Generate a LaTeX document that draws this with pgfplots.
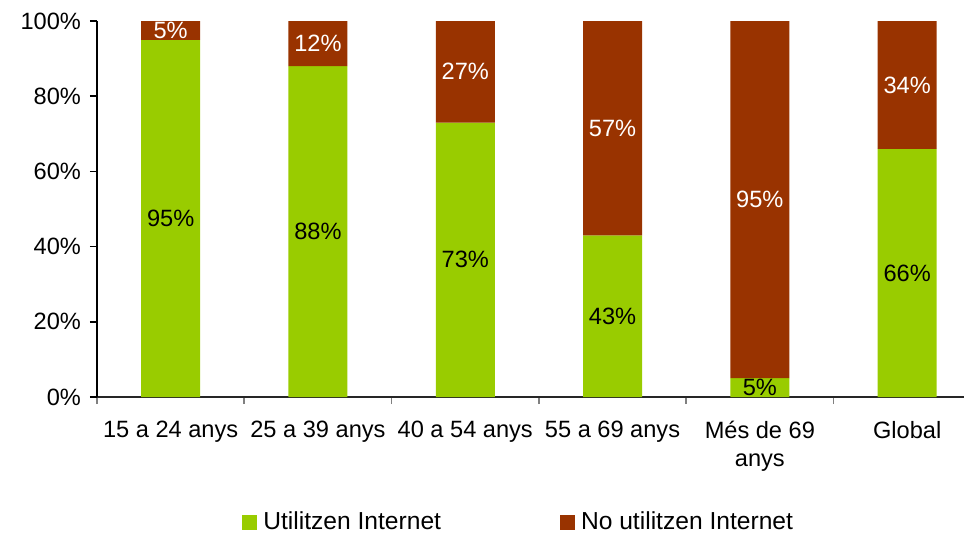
\documentclass[border=0pt]{standalone}
\usepackage{pgfplots}
\pgfplotsset{compat=1.18}
\usepackage{fontspec}
\setmainfont{Liberation Sans}
\definecolor{cgreen}{HTML}{99CC00}
\definecolor{cred}{HTML}{993300}
\newcommand{\chartfont}{\fontsize{11.8}{14}\selectfont}
\newcommand{\legfont}{\fontsize{12.3}{14}\selectfont}
\begin{document}
\begin{tikzpicture}
\begin{axis}[
  name=ax,
  scale only axis,
  width=433.5pt, height=188pt,
  xmin=-0.5, xmax=5.386,
  ymin=0, ymax=100,
  axis x line=bottom, axis y line=left,
  axis line style={-, line width=0.8pt},
  x axis line style={black!85},
  xtick={0,1,2,3,4,5},
  xticklabels={15 a 24 anys, 25 a 39 anys, 40 a 54 anys, 55 a 69 anys, {M\'es de 69\\anys}, Global},
  minor xtick={-0.5,0.5,1.5,2.5,3.5,4.5},
  major x tick style={draw=none},
  minor x tick style={gray, line width=0.8pt},
  minor tick length=3.5pt,
  ytick={0,20,40,60,80,100},
  yticklabels={0\%,20\%,40\%,60\%,80\%,100\%},
  major y tick style={black, line width=0.8pt},
  major tick length=3.5pt,
  tick align=outside,
  tick label style={font=\chartfont},
  xticklabel style={align=center, yshift=-5pt},
  yticklabel style={xshift=-1pt},
  clip=false,
  legend style={at={(0.4875,-0.333)}, anchor=center, draw=none, font=\legfont,
    legend columns=2, /tikz/every even column/.append style={column sep=57.5pt},
    /tikz/every odd column/.append style={column sep=1pt}},
  legend image code/.code={\fill[#1] (0pt,-3.75pt) rectangle (7.5pt,3.75pt);},
]
\addlegendimage{fill=cgreen, draw=none}
\addlegendentry{Utilitzen Internet}
\addlegendimage{fill=cred, draw=none}
\addlegendentry{No utilitzen Internet}

\addplot[ybar stacked, bar shift=0pt, bar width=29.5pt, fill=cgreen, draw=none, forget plot]
  coordinates {(0,95) (1,88) (2,73) (3,43) (4,5) (5,66)};
\addplot[ybar stacked, bar shift=0pt, bar width=29.5pt, fill=cred, draw=none, forget plot]
  coordinates {(0,5) (1,12) (2,27) (3,57) (4,95) (5,34)};

\addplot[draw=none, mark=none, forget plot, stack plots=false, nodes near coords, point meta=explicit symbolic,
  nodes near coords style={anchor=center, font=\chartfont, text=black}]
  coordinates {(0,47.5)[95\%] (1,44)[88\%] (2,36.5)[73\%] (3,21.5)[43\%] (4,2.5)[5\%] (5,33)[66\%]};
\addplot[draw=none, mark=none, forget plot, stack plots=false, nodes near coords, point meta=explicit symbolic,
  nodes near coords style={anchor=center, font=\chartfont, text=white}]
  coordinates {(0,97.5)[5\%] (1,94)[12\%] (2,86.5)[27\%] (3,71.5)[57\%] (4,52.5)[95\%] (5,83)[34\%]};
\end{axis}
\pgfresetboundingbox
\path (ax.south west) ++(-48.5pt,-67.5pt) rectangle ++(482pt,266pt);
\end{tikzpicture}
\end{document}
